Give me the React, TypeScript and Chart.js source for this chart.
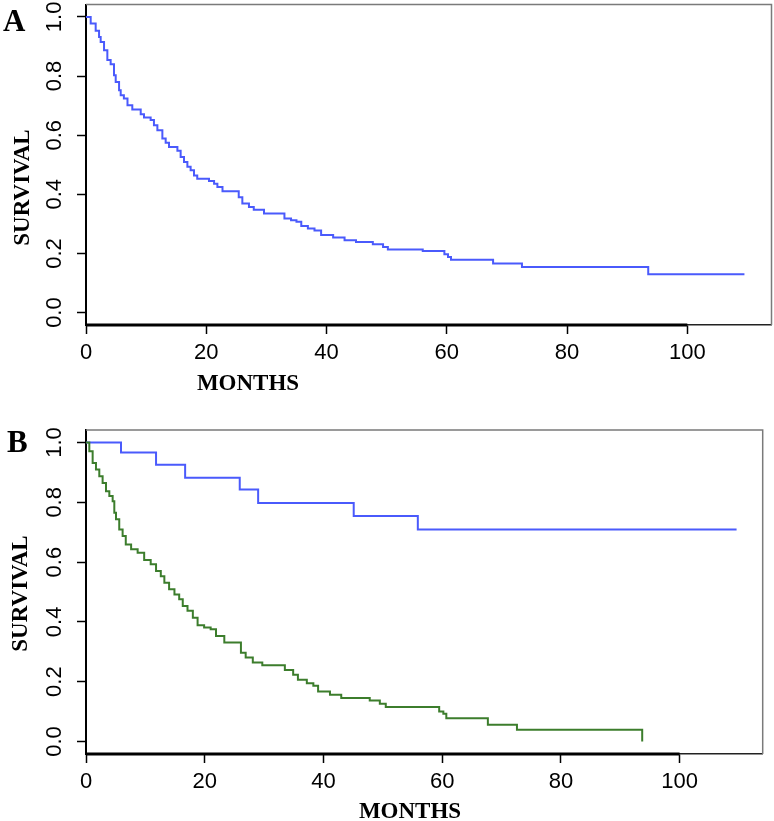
import React, { useEffect, useRef } from "react";
import { Chart, registerables } from "chart.js";

Chart.register(...registerables);

// ---------- data ----------
const monthsA = [0, 0.78, 1.61, 2.17, 2.44, 3.0, 3.55, 4.1, 4.66, 4.94, 5.5, 5.77, 6.3, 6.9, 7.7, 9.1, 9.65, 10.75, 11.3, 11.87, 12.7, 13.25, 13.8, 15.2, 15.74, 16.3, 16.86, 17.4, 17.96, 18.5, 20.45, 21.3, 21.85, 22.7, 25.4, 26.0, 27.1, 27.9, 29.6, 33.0, 34.1, 35.0, 35.8, 36.9, 38.0, 39.1, 41.1, 43.0, 44.9, 47.7, 49.4, 50.2, 56.0, 59.6, 60.2, 60.7, 67.7, 72.5, 93.5, 109.5];
const survivalA = [1, 0.978, 0.953, 0.932, 0.915, 0.887, 0.854, 0.84, 0.803, 0.78, 0.752, 0.735, 0.724, 0.701, 0.687, 0.671, 0.66, 0.651, 0.634, 0.617, 0.589, 0.574, 0.56, 0.547, 0.526, 0.509, 0.493, 0.481, 0.464, 0.453, 0.445, 0.436, 0.425, 0.41, 0.39, 0.369, 0.357, 0.348, 0.335, 0.318, 0.312, 0.307, 0.293, 0.284, 0.278, 0.262, 0.254, 0.245, 0.239, 0.231, 0.222, 0.213, 0.208, 0.197, 0.188, 0.179, 0.166, 0.154, 0.13, 0.13];

const monthsB1 = [0, 5.9, 11.8, 16.7, 25.9, 29.0, 45.1, 55.9, 109.6];
const survivalB1 = [1, 0.967, 0.926, 0.882, 0.843, 0.798, 0.754, 0.709, 0.709];

const monthsB2 = [0, 0.56, 1.12, 1.68, 2.24, 2.8, 3.37, 3.93, 4.49, 4.77, 5.05, 5.6, 6.17, 6.7, 7.6, 8.7, 9.8, 10.9, 11.8, 12.6, 13.2, 14.0, 14.9, 15.7, 16.3, 17.1, 18.0, 18.8, 19.9, 21.0, 21.9, 23.3, 26.1, 26.9, 28.1, 29.7, 33.5, 34.9, 35.7, 37.2, 38.3, 39.1, 41.1, 43.0, 47.8, 49.5, 50.5, 59.5, 60.2, 60.7, 67.7, 72.6, 93.7];
const survivalB2 = [1, 0.971, 0.932, 0.91, 0.887, 0.865, 0.837, 0.821, 0.804, 0.765, 0.743, 0.709, 0.687, 0.659, 0.643, 0.631, 0.607, 0.593, 0.57, 0.553, 0.531, 0.509, 0.492, 0.476, 0.453, 0.437, 0.414, 0.389, 0.381, 0.375, 0.353, 0.331, 0.297, 0.281, 0.264, 0.255, 0.239, 0.223, 0.206, 0.195, 0.186, 0.167, 0.156, 0.145, 0.137, 0.126, 0.115, 0.1, 0.093, 0.078, 0.056, 0.039, 0];

const xTicks = [0, 20, 40, 60, 80, 100];
const xTickLabels = ["0", "20", "40", "60", "80", "100"];
const yTicks = [0, 0.2, 0.4, 0.6, 0.8, 1.0];
const yTickLabels = ["0.0", "0.2", "0.4", "0.6", "0.8", "1.0"];

const BLUE = "#4a5afc";
const GREEN = "#3c7d2c";

const toPoints = (xs: number[], ys: number[]) => xs.map((x, i) => ({ x, y: ys[i] }));

type Panel = {
  top: number;
  height: number;
  padding: { top: number; right: number; bottom: number; left: number };
  letter: string;
  letterPos: [number, number];
  monthsPos: [number, number];
  survPos: [number, number];
  datasets: any[];
};

const panels: Panel[] = [
  {
    top: 0,
    height: 400,
    padding: { top: 4.5, right: 2.5, bottom: 35, left: 0 },
    letter: "A",
    letterPos: [3, 31],
    monthsPos: [248, 390],
    survPos: [29, 187.5],
    datasets: [
      { data: toPoints(monthsA, survivalA), borderColor: BLUE },
    ],
  },
  {
    top: 400,
    height: 421,
    padding: { top: 30, right: 11.3, bottom: 27, left: 0 },
    letter: "B",
    letterPos: [7, 52],
    monthsPos: [410, 418],
    survPos: [27, 193.5],
    datasets: [
      { data: toPoints(monthsB2, survivalB2), borderColor: GREEN },
      { data: toPoints(monthsB1, survivalB1), borderColor: BLUE },
    ],
  },
];

function makeFramePlugin(p: Panel) {
  return {
    id: "rFrame",
    afterDraw(chart: any) {
      const { ctx, chartArea } = chart;
      const xs = chart.scales.x;
      ctx.save();
      // grey box (top and right)
      ctx.strokeStyle = "#7a7a7a";
      ctx.lineWidth = 1.5;
      ctx.beginPath();
      ctx.moveTo(chartArea.left, chartArea.top);
      ctx.lineTo(chartArea.right, chartArea.top);
      ctx.lineTo(chartArea.right, chartArea.bottom);
      ctx.stroke();
      // thick x axis line from first to last tick
      ctx.strokeStyle = "#000";
      ctx.lineWidth = 3;
      ctx.beginPath();
      ctx.moveTo(xs.getPixelForValue(xTicks[0]), chartArea.bottom);
      ctx.lineTo(xs.getPixelForValue(xTicks[xTicks.length - 1]), chartArea.bottom);
      ctx.stroke();
      // texts
      ctx.fillStyle = "#000";
      ctx.textBaseline = "alphabetic";
      ctx.font = 'bold 31px "Liberation Serif", "Times New Roman", serif';
      ctx.textAlign = "left";
      ctx.fillText(p.letter, p.letterPos[0], p.letterPos[1]);
      ctx.font = 'bold 23px "Liberation Serif", "Times New Roman", serif';
      ctx.textAlign = "center";
      ctx.fillText("MONTHS", p.monthsPos[0], p.monthsPos[1]);
      ctx.translate(p.survPos[0], p.survPos[1]);
      ctx.rotate(-Math.PI / 2);
      ctx.fillText("SURVIVAL", 0, 0);
      ctx.restore();
    },
  };
}

function PanelChart({ p }: { p: Panel }) {
  const ref = useRef<HTMLCanvasElement>(null);
  useEffect(() => {
    const chart = new Chart(ref.current!, {
      type: "line",
      data: {
        datasets: p.datasets.map((d) => ({
          ...d,
          stepped: "before",
          borderWidth: 2,
          pointRadius: 0,
          fill: false,
          tension: 0,
        })),
      },
      options: {
        responsive: false,
        animation: false,
        devicePixelRatio: 1,
        layout: { padding: p.padding },
        plugins: { legend: { display: false }, tooltip: { enabled: false }, title: { display: false } },
        scales: {
          x: {
            type: "linear",
            min: 0,
            max: 114,
            grid: { display: true, drawOnChartArea: false, drawTicks: true, tickLength: 9, tickColor: "#000", tickWidth: 1.5 },
            border: { display: true, color: "#222", width: 1.5 },
            afterBuildTicks: (s: any) => {
              s.ticks = xTicks.map((v) => ({ value: v }));
            },
            afterFit: (s: any) => {
              s.height = 40;
              s.paddingLeft = 0;
              s.paddingRight = 0;
            },
            ticks: {
              color: "#000",
              padding: 6,
              maxRotation: 0,
              minRotation: 0,
              autoSkip: false,
              font: { family: '"Liberation Sans", Arial, sans-serif', size: 22 },
              callback: (v: any, i: number) => xTickLabels[i],
            },
          },
          y: {
            type: "linear",
            min: -0.042,
            max: 1.042,
            grid: { display: true, drawOnChartArea: false, drawTicks: true, tickLength: 9, tickColor: "#000", tickWidth: 1.5 },
            border: { display: true, color: "#000", width: 2 },
            afterBuildTicks: (s: any) => {
              s.ticks = yTicks.map((v) => ({ value: v }));
            },
            afterFit: (s: any) => {
              s.width = 86;
              s.paddingTop = 0;
              s.paddingBottom = 0;
            },
            ticks: {
              color: "#000",
              padding: 7,
              minRotation: 90,
              maxRotation: 90,
              crossAlign: "center",
              autoSkip: false,
              font: { family: '"Liberation Sans", Arial, sans-serif', size: 22 },
              callback: (v: any, i: number) => yTickLabels[i],
            },
          },
        },
      },
      plugins: [makeFramePlugin(p)],
    } as any);
    return () => chart.destroy();
  }, []);
  return (
    <canvas
      ref={ref}
      width={774}
      height={p.height}
      style={{ position: "absolute", left: 0, top: p.top, width: 774, height: p.height }}
    />
  );
}

export default function App() {
  return (
    <div style={{ position: "absolute", left: 0, top: 0, width: 774, height: 821, background: "#fff", overflow: "hidden" }}>
      {panels.map((p, i) => (
        <PanelChart key={i} p={p} />
      ))}
    </div>
  );
}
